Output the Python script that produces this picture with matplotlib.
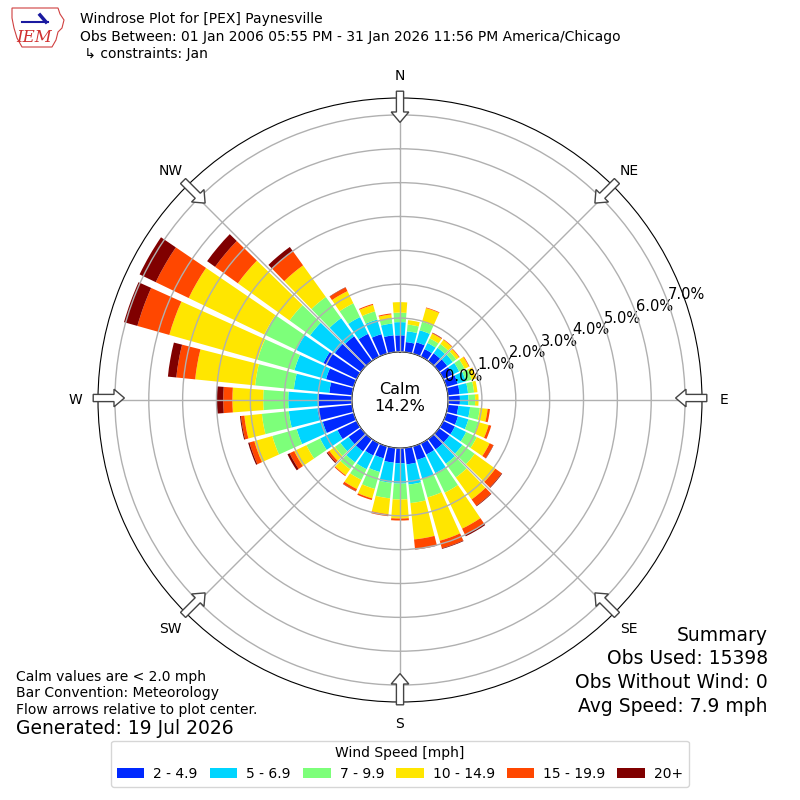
import numpy as np
import matplotlib
matplotlib.use("Agg")
import matplotlib.pyplot as plt
from matplotlib.patches import FancyArrow, Polygon
from matplotlib.lines import Line2D

# wind direction bins (deg, meteorological) and speed bins
directions = np.arange(0, 360, 10)
speed_labels = ["2 - 4.9", "5 - 6.9", "7 - 9.9", "10 - 14.9", "15 - 19.9", "20+"]

# percent of obs in each direction, one list per speed bin
pct_2_5 = [0.49, 0.30, 0.35, 0.25, 0.28, 0.30, 0.30, 0.35, 0.35, 0.35,
           0.31, 0.36, 0.38, 0.38, 0.38, 0.37, 0.42, 0.49, 0.45, 0.44,
           0.37, 0.40, 0.45, 0.45, 0.63, 0.95, 1.03, 0.99, 0.68, 0.85,
           1.09, 0.95, 0.90, 0.75, 0.60, 0.50]
pct_5_7 = [0.39, 0.32, 0.37, 0.20, 0.20, 0.20, 0.22, 0.25, 0.25, 0.25,
           0.35, 0.32, 0.37, 0.47, 0.52, 0.61, 0.58, 0.60, 0.60, 0.60,
           0.42, 0.45, 0.40, 0.30, 0.57, 0.80, 0.85, 0.89, 1.05, 0.97,
           0.89, 0.90, 0.66, 0.55, 0.45, 0.35]
pct_7_10 = [0.28, 0.20, 0.26, 0.15, 0.14, 0.13, 0.18, 0.18, 0.18, 0.20,
            0.29, 0.31, 0.35, 0.45, 0.50, 0.64, 0.57, 0.55, 0.47, 0.46,
            0.52, 0.35, 0.25, 0.20, 0.45, 0.75, 0.80, 0.74, 1.15, 1.13,
            1.05, 0.75, 0.77, 0.45, 0.25, 0.15]
pct_10_15 = [0.31, 0.13, 0.42, 0.16, 0.15, 0.10, 0.14, 0.13, 0.10, 0.10,
             0.23, 0.31, 0.42, 0.75, 0.80, 1.18, 1.33, 1.08, 0.56, 0.47,
             0.29, 0.30, 0.22, 0.20, 0.40, 0.55, 0.52, 0.91, 1.78, 2.71,
             2.48, 1.88, 1.15, 0.40, 0.20, 0.12]
pct_15_20 = [0.00, 0.00, 0.02, 0.02, 0.02, 0.02, 0.02, 0.01, 0.00, 0.00,
             0.07, 0.08, 0.12, 0.23, 0.23, 0.20, 0.23, 0.29, 0.06, 0.06,
             0.05, 0.07, 0.03, 0.07, 0.15, 0.15, 0.10, 0.27, 0.56, 0.98,
             1.08, 0.83, 0.52, 0.12, 0.03, 0.03]
pct_20_up = [0.00, 0.00, 0.00, 0.01, 0.00, 0.00, 0.00, 0.00, 0.00, 0.00,
             0.00, 0.00, 0.01, 0.02, 0.02, 0.05, 0.02, 0.01, 0.00, 0.00,
             0.00, 0.01, 0.00, 0.03, 0.07, 0.04, 0.03, 0.19, 0.25, 0.41,
             0.53, 0.29, 0.15, 0.01, 0.00, 0.00]

calm_pct = 14.2
rticks = [0, 1, 2, 3, 4, 5, 6, 7]
compass = ["N", "NE", "E", "SE", "S", "SW", "W", "NW"]

header = ["Windrose Plot for [PEX] Paynesville",
          "Obs Between: 01 Jan 2006 05:55 PM - 31 Jan 2026 11:56 PM America/Chicago",
          " \u21b3 constraints: Jan"]
notes = ["Calm values are < 2.0 mph", "Bar Convention: Meteorology",
         "Flow arrows relative to plot center."]
generated = "Generated: 19 Jul 2026"
summary = ["Summary", "Obs Used: 15398", "Obs Without Wind: 0", "Avg Speed: 7.9 mph"]

bins = [pct_2_5, pct_5_7, pct_7_10, pct_10_15, pct_15_20, pct_20_up]
colors = plt.cm.jet(np.linspace(0, 1, 7)[1:])

fig = plt.figure(figsize=(8, 8), dpi=100)
ax = fig.add_axes([0.1225, 0.1225, 0.755, 0.755], projection="polar")
ax.set_theta_zero_location("N")
ax.set_theta_direction(-1)

theta = np.deg2rad(directions)
width = np.deg2rad(10) * 0.85
bottom = np.zeros(len(directions))
for vals, col, lab in zip(bins, colors, speed_labels):
    vals = np.array(vals)
    ax.bar(theta, vals, width=width, bottom=bottom, color=col, label=lab,
           linewidth=0, zorder=2)
    bottom = bottom + vals

ax.set_ylim(0, 7.5)
ax.set_rorigin(-1.42)
ax.set_yticks(rticks)
ax.set_yticklabels(["%.1f%%" % t for t in rticks], fontsize=10.5)
ax.set_rlabel_position(70)
ax.set_xticks(np.deg2rad(np.arange(0, 360, 45)))
ax.set_xticklabels(compass, fontsize=10)
ax.tick_params(axis="x", pad=5.5)
ax.set_axisbelow(False)
ax.grid(True, color="#b0b0b0", linewidth=1, zorder=3)

fig.text(0.5, 0.5025, "Calm\n%.1f%%" % calm_pct, ha="center", va="center",
         fontsize=11.5)

# flow arrows at the 8 compass points, pointing to the center
cx, cy, rad = 0.5, 0.5025, 0.3775
for b in np.deg2rad(np.arange(0, 360, 45)):
    sx, sy = np.sin(b), np.cos(b)
    r0 = rad + 0.006
    fig.add_artist(FancyArrow(cx + r0 * sx, cy + r0 * sy, -0.039 * sx, -0.039 * sy,
                              width=0.009, head_width=0.022, head_length=0.013,
                              length_includes_head=True, facecolor="white",
                              edgecolor="#444444", linewidth=1,
                              transform=fig.transFigure, zorder=5))

# rough IEM logo
outline = np.array([[12, 8], [58, 8], [60, 14], [64, 20], [62, 28], [58, 32],
                    [56, 40], [52, 47], [22, 47], [17, 38], [14, 28], [12, 18]])
fig.add_artist(Polygon(np.column_stack([outline[:, 0] / 800, 1 - outline[:, 1] / 800]),
                       closed=True, fill=False, edgecolor="#d04040", linewidth=0.8,
                       transform=fig.transFigure))
fig.add_artist(Line2D([22 / 800, 48 / 800], [1 - 22 / 800, 1 - 22 / 800],
                      color="#1a1aa0", linewidth=1.5, transform=fig.transFigure))
fig.add_artist(Line2D([40 / 800, 46 / 800], [1 - 15 / 800, 1 - 22 / 800],
                      color="#1a1aa0", linewidth=2.5, transform=fig.transFigure))
fig.text(34 / 800, 1 - 38 / 800, "IEM", color="#d03030", fontsize=12,
         family="DejaVu Serif", style="italic", ha="center", va="center")

for i, line in enumerate(header):
    fig.text(0.1, 0.976 - i * 0.0218, line, fontsize=10, va="center", ha="left")

for i, line in enumerate(notes):
    fig.text(0.02, 0.154 - i * 0.0208, line, fontsize=10, va="center", ha="left")
fig.text(0.02, 0.089, generated, fontsize=13.5, va="center", ha="left")

for i, line in enumerate(summary):
    fig.text(0.96, 0.206 - i * 0.0295, line, fontsize=13.5, va="center", ha="right")

fig.legend(loc="lower center", bbox_to_anchor=(0.5, 0.008), ncol=6,
           title="Wind Speed [mph]", fontsize=10, title_fontsize=10,
           handletextpad=0.65, columnspacing=0.85)

fig.savefig("out.png", dpi=100)
